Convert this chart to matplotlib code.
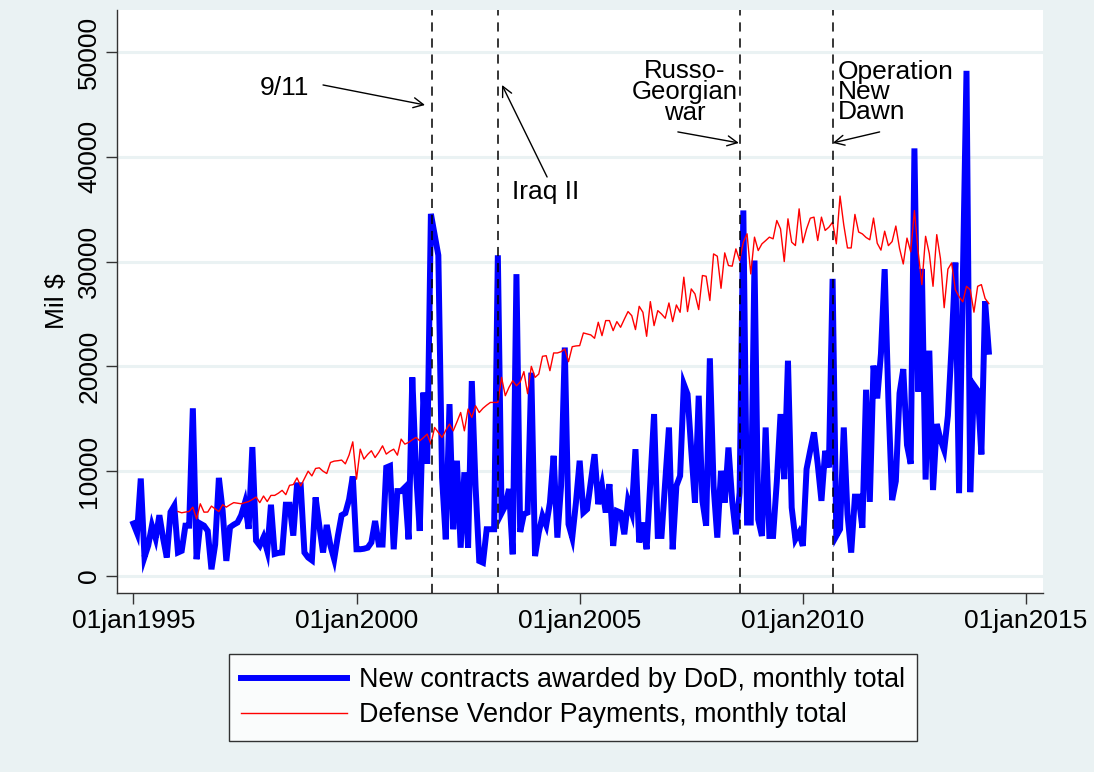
import numpy as np
import matplotlib
matplotlib.use("Agg")
import matplotlib.pyplot as plt

plt.rcParams['font.family'] = ['Liberation Sans', 'DejaVu Sans']

# New contracts awarded by DoD, monthly total (Mil $), Jan 1995 - Mar 2014
contracts = [
    5000, 4100, 9300, 1800, 2900, 4800, 3600, 5800, 3600, 1760, 6100, 6700,
    2240, 2400, 4800, 4800, 16000, 1600, 5000, 4800, 4300, 640, 3000, 9360,
    6250, 1440, 4650, 4900, 5100, 5800, 7000, 4500, 12300, 3370, 2900, 3700,
    2400, 6800, 2100, 2200, 2240, 6800, 6800, 3850, 8650, 8650, 2240, 1760,
    1500, 7500, 4800, 2240, 4870, 2880, 1600, 3850, 5800, 6000, 7300, 9500,
    2550, 2550, 2600, 2700, 3200, 5250, 3000, 3000, 10350, 10500, 2550, 8100,
    8100, 8450, 3500, 18950, 9900, 4300, 17500, 10700, 34550, 32600, 30600, 9400,
    3500, 16400, 4460, 11000, 2700, 9900, 2700, 18600, 8600, 1430, 1270, 4460,
    4460, 4460, 30600, 6000, 6700, 8300, 2070, 28800, 4200, 5900, 6050, 19400,
    1900, 4140, 5730, 4840, 7000, 11470, 3660, 8600, 21800, 4940, 3660, 7000,
    11000, 6050, 6370, 9000, 11620, 6850, 8600, 6050, 8760, 2870, 6200, 6050,
    3980, 7170, 6050, 12100, 3200, 5100, 2550, 9000, 15450, 3820, 3820, 9000,
    14170, 2550, 8600, 9550, 18300, 17350, 12000, 7000, 17200, 7170, 4800, 20770,
    8600, 3660, 10030, 7000, 12260, 7170, 3980, 7960, 34880, 5100, 5100, 30100,
    5400, 3820, 14170, 3820, 3820, 9000, 15450, 9240, 20540, 6530, 3500, 4140,
    2870, 10200, 12000, 13700, 10670, 7170, 11940, 10350, 28350, 3820, 4460, 14170,
    5890, 2230, 7570, 7570, 4600, 17770, 7070, 20070, 16940, 21220, 29280, 16780,
    7240, 9050, 17440, 19740, 12500, 10700, 40800, 17600, 29300, 9200, 21500, 8200,
    14500, 13000, 12000, 15300, 22000, 29900, 7900, 28000, 48200, 8000, 18200, 17700,
    11600, 26200, 21400,
]

# Defense Vendor Payments, monthly total (Mil $), Jan 1996 - Mar 2014
payments = [
    6150, 6030, 6100, 6150, 6570, 5450, 6890, 6090, 6100, 6670, 6400, 6150,
    6800, 6570, 6800, 7000, 6950, 6890, 7000, 7100, 7300, 7530, 7000, 7630,
    7100, 7690, 7690, 7900, 8170, 7760, 8650, 8720, 9360, 8590, 9300, 10000,
    9550, 10260, 10320, 10000, 9780, 10830, 10960, 11000, 11060, 10700, 11540, 12800,
    9240, 12100, 11150, 11600, 11950, 11300, 11800, 12420, 11630, 11900, 12100, 11530,
    13060, 12580, 12740, 13000, 13220, 12900, 13200, 13540, 12580, 14170, 13700, 13220,
    13900, 14490, 13850, 14700, 15600, 13850, 15930, 15130, 16240, 15600, 16000, 16300,
    16560, 16560, 16560, 18950, 17200, 18000, 18630, 18150, 18500, 19500, 17400, 20000,
    18950, 19270, 20960, 21020, 19590, 21280, 21280, 21400, 21660, 20450, 21880, 21950,
    21980, 23190, 23100, 23000, 22680, 24210, 22930, 24370, 24370, 23410, 24270, 23730,
    24500, 25230, 24840, 23510, 25730, 25160, 22870, 26180, 23890, 25320, 25000, 24590,
    26050, 24270, 25860, 25160, 28510, 25230, 27390, 26910, 25420, 28670, 28600, 26280,
    30730, 30510, 27450, 30830, 29620, 29560, 31210, 30100, 31850, 32650, 28820, 32330,
    31050, 31690, 32000, 32330, 32170, 33920, 33120, 30000, 34080, 31850, 31530, 35030,
    31790, 33120, 34140, 34240, 32010, 34240, 32970, 33280, 33760, 31690, 36250, 33500,
    31300, 31300, 34500, 32820, 32640, 32300, 32080, 34150, 31750, 31090, 32900, 31520,
    31910, 33390, 31260, 29770, 32240, 30930, 34870, 30930, 27800, 32410, 30760, 27640,
    32570, 30270, 25600, 29280, 29870, 27310, 26650, 26160, 27640, 27310, 25170, 27640,
    27800, 26480, 25990,
]

# event dates as fractional years
event_x = [2001 + (8 + 10 / 30) / 12, 2003 + 2 / 12, 2008 + 7 / 12, 2010 + 8 / 12]

x_ticks = [1995, 2000, 2005, 2010, 2015]
x_labels = ["01jan1995", "01jan2000", "01jan2005", "01jan2010", "01jan2015"]
y_ticks = [0, 10000, 20000, 30000, 40000, 50000]

bg = "#EAF2F3"

x_c = 1995 + np.arange(len(contracts)) / 12
x_p = 1996 + np.arange(len(payments)) / 12

fig = plt.figure(figsize=(10.94, 7.72), dpi=100, facecolor=bg)
ax = fig.add_axes([0.1067, 0.2315, 0.8467, 0.7555])
ax.set_facecolor("white")

for y in y_ticks:
    ax.axhline(y, color=bg, lw=2.2, zorder=0)

l1, = ax.plot(x_c, contracts, color="#0000FF", lw=4.3, solid_joinstyle="miter", zorder=3)
l2, = ax.plot(x_p, payments, color="#FF0000", lw=1.0, zorder=4)

for xe in event_x:
    ax.axvline(xe, color="black", lw=1.1, dashes=(6, 4.5), zorder=5)

ax.set_xlim(1994.628, 2015.381)
ax.set_ylim(-1650, 54000)
ax.set_xticks(x_ticks)
ax.set_xticklabels(x_labels)
ax.set_yticks(y_ticks)
ax.set_yticklabels([str(v) for v in y_ticks], rotation=90, va="center")
ax.tick_params(axis="x", labelsize=19, length=8, width=1, color="#333333", pad=3)
ax.tick_params(axis="y", labelsize=19, length=8, width=1, color="#333333", pad=3)
ax.set_ylabel("Mil $", fontsize=19, labelpad=6)

for s in ["top", "right"]:
    ax.spines[s].set_visible(False)
for s in ["left", "bottom"]:
    ax.spines[s].set_color("#333333")
    ax.spines[s].set_linewidth(1.0)

arrow = dict(arrowstyle="->", color="black", lw=1.0, mutation_scale=18,
             shrinkA=0, shrinkB=0)
ax.text(1998.38, 46565, "9/11", fontsize=19, ha="center", va="center")
ax.annotate("", xy=(2001.535, 44940), xytext=(1999.25, 46850), arrowprops=arrow)
ax.text(2004.245, 36640, "Iraq II", fontsize=19, ha="center", va="center")
ax.annotate("", xy=(2003.26, 46850), xytext=(2004.27, 38070), arrowprops=arrow)
ax.text(2007.36, 46180, "Russo-\nGeorgian\nwar", fontsize=18.5, ha="center",
        va="center", linespacing=0.82)
ax.annotate("", xy=(2008.567, 41320), xytext=(2007.2, 42370), arrowprops=arrow)
ax.text(2010.78, 46180, "Operation\nNew\nDawn", fontsize=19, ha="left",
        va="center", linespacing=0.8)
ax.annotate("", xy=(2010.67, 41320), xytext=(2011.72, 42370), arrowprops=arrow)

leg = fig.legend([l1, l2],
                 ["New contracts awarded by DoD, monthly total",
                  "Defense Vendor Payments, monthly total"],
                 loc="center", bbox_to_anchor=(0.5238, 0.0965), fontsize=19.4,
                 frameon=True, fancybox=False, edgecolor="black",
                 handlelength=3.9, handletextpad=0.45, labelspacing=0.33,
                 borderpad=0.47)
leg.get_frame().set_linewidth(1.0)

fig.savefig("out.png", dpi=100, facecolor=bg)
